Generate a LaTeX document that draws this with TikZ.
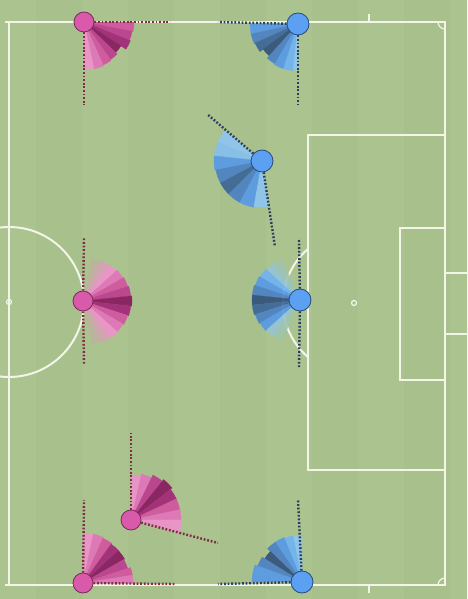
\documentclass[tikz,border=0pt]{standalone}
\usetikzlibrary{calc}
\definecolor{grass}{HTML}{A8C18C}
\definecolor{grassb}{HTML}{AAC38F}
\definecolor{chalk}{HTML}{F2F5E8}
\definecolor{pk1}{HTML}{F090CC}
\definecolor{pk2}{HTML}{E372BB}
\definecolor{pk3}{HTML}{D4529F}
\definecolor{pk4}{HTML}{BD3A8F}
\definecolor{pk5}{HTML}{A22478}
\definecolor{pk6}{HTML}{87175F}
\definecolor{bl1}{HTML}{8EC6F2}
\definecolor{bl2}{HTML}{70B2F5}
\definecolor{bl3}{HTML}{5598E8}
\definecolor{bl4}{HTML}{4A80C4}
\definecolor{bl5}{HTML}{3A6498}
\definecolor{bl6}{HTML}{2F4F7A}
\definecolor{pinkfill}{HTML}{D95AAA}
\definecolor{pinkline}{HTML}{7A2A5A}
\definecolor{bluefill}{HTML}{5BA0F2}
\definecolor{blueline}{HTML}{2A4A7A}
\definecolor{pinkdot}{HTML}{7D2E45}
\definecolor{bluedot}{HTML}{2C3E5C}
\begin{document}
\begin{tikzpicture}[x=1pt,y=1pt,
  pitchline/.style={draw=chalk,line width=2pt},
  fangroup/.style={transparency group,opacity=0.9},
  pinkplayer/.style={circle,minimum size=20pt,inner sep=0pt,fill=pinkfill,draw=pinkline,line width=0.8pt},
  blueplayer/.style={circle,minimum size=22pt,inner sep=0pt,fill=bluefill,draw=blueline,line width=0.8pt},
  pdots/.style={draw=pinkdot,line width=2.4pt,dash pattern=on 1.8pt off 1.8pt},
  bdots/.style={draw=bluedot,line width=2.4pt,dash pattern=on 1.8pt off 1.8pt}]
\useasboundingbox (0,0) rectangle (467,599);
\clip (0,0) rectangle (467,599);
% grass
\fill[grass] (0,0) rectangle (467,599);
\foreach \i in {0,2,...,10} \fill[grassb] (\i*46-10,0) rectangle ++(46,599);
% pitch markings
\draw[pitchline] (5,577) -- (445,577) -- (445,14) -- (5,14);
\draw[pitchline] (9,577) -- (9,14);
\draw[pitchline] (9,297) circle[radius=75];
\draw[chalk,line width=1.2pt] (9,297) circle[radius=2.5];
\draw[pitchline] (445,464) -- (308,464) -- (308,129) -- (445,129);
\draw[pitchline] (445,371) -- (400,371) -- (400,219) -- (445,219);
\draw[chalk,line width=1.2pt] (354,296) circle[radius=2.5];
\draw[pitchline] (354,296) ++(130.4:71) arc[start angle=130.4,end angle=229.6,radius=71];
\draw[pitchline] (445,326) -- (470,326);
\draw[pitchline] (445,265) -- (470,265);
\draw[chalk,line width=1.2pt] (438,577) arc[start angle=180,end angle=270,radius=7];
\draw[chalk,line width=1.2pt] (445,21) arc[start angle=90,end angle=180,radius=7];
\draw[chalk,line width=1.2pt] (369,577) -- (369,585);
\draw[chalk,line width=1.2pt] (369,14) -- (369,6);
% player positions
\coordinate (c1) at (84,577);
\coordinate (c2) at (83,298);
\coordinate (c3) at (131,79);
\coordinate (c4) at (83,16);
\coordinate (c5) at (298,575);
\coordinate (c6) at (262,438);
\coordinate (c7) at (300,299);
\coordinate (c8) at (302,17);
% fans
\begin{scope}[fangroup]
\foreach \a/\b/\r/\col in {0/-11/50/pk3,-11/-22/49/pk4,-22/-33/50/pk5,-33/-44/44/pk6,-44/-55/46/pk4,-55/-66/47/pk3,-66/-78/48/pk2,-78/-90/47/pk1}
  \filldraw[fill=\col,draw=\col,line width=0.3pt] (c1) -- ++(\a:\r) arc[start angle=\a,end angle=\b,radius=\r] -- cycle;
\end{scope}
\begin{scope}[fangroup]
\foreach \a/\b/\r/\col in {78/66/43/pk1!30!grass,66/54/44/pk1!65!grass,54/42/45/pk1,42/30/46/pk2,30/18/47/pk3,18/6/48/pk4,6/-6/49/pk6,-6/-18/48/pk5,-18/-30/47/pk3,-30/-42/46/pk2,-42/-54/46/pk1,-54/-66/45/pk1!65!grass,-66/-78/44/pk1!30!grass}
  \filldraw[fill=\col,draw=\col,line width=0.3pt] (c2) -- ++(\a:\r) arc[start angle=\a,end angle=\b,radius=\r] -- cycle;
\end{scope}
\begin{scope}[fangroup]
\foreach \a/\b/\r/\col in {90/77/45/pk1,77/64/47/pk2,64/51/50/pk4,51/38/52/pk6,38/25/50/pk5,25/12/50/pk3,12/0/50/pk2,0/-15/50/pk1}
  \filldraw[fill=\col,draw=\col,line width=0.3pt] (c3) -- ++(\a:\r) arc[start angle=\a,end angle=\b,radius=\r] -- cycle;
\end{scope}
\begin{scope}[fangroup]
\foreach \a/\b/\r/\col in {90/78/50/pk1,78/66/50/pk2,66/54/49/pk3,54/42/48/pk5,42/30/48/pk6,30/18/47/pk4,18/9/50/pk3,9/0/50/pk2}
  \filldraw[fill=\col,draw=\col,line width=0.3pt] (c4) -- ++(\a:\r) arc[start angle=\a,end angle=\b,radius=\r] -- cycle;
\end{scope}
\begin{scope}[fangroup]
\foreach \a/\b/\r/\col in {180/192/48/bl3,192/204/48/bl4,204/216/47/bl5,216/228/43/bl6,228/240/46/bl4,240/252/47/bl3,252/264/47/bl2,264/270/46/bl1}
  \filldraw[fill=\col,draw=\col,line width=0.3pt] (c5) -- ++(\a:\r) arc[start angle=\a,end angle=\b,radius=\r] -- cycle;
\end{scope}
\begin{scope}[fangroup]
\foreach \a/\b/\r/\col in {140/157/48/bl1,157/174/48/bl1!85!bl3,174/191/48/bl3,191/208/47/bl4,208/225/47/bl5,225/242/47/bl4,242/260/47/bl3,260/278/46/bl1}
  \filldraw[fill=\col,draw=\col,line width=0.3pt] (c6) -- ++(\a:\r) arc[start angle=\a,end angle=\b,radius=\r] -- cycle;
\end{scope}
\begin{scope}[fangroup]
\foreach \a/\b/\r/\col in {114/126/44/bl1!35!grass,126/138/45/bl1!70!grass,138/150/46/bl2,150/162/47/bl3,162/174/48/bl4,174/186/48/bl6,186/198/48/bl5,198/210/47/bl4,210/222/46/bl3,222/234/45/bl1!70!grass,234/246/44/bl1!35!grass}
  \filldraw[fill=\col,draw=\col,line width=0.3pt] (c7) -- ++(\a:\r) arc[start angle=\a,end angle=\b,radius=\r] -- cycle;
\end{scope}
\begin{scope}[fangroup]
\foreach \a/\b/\r/\col in {90/101/46/bl1,101/112/47/bl2,112/124/48/bl3,124/136/48/bl4,136/148/44/bl6,148/160/47/bl4,160/170/50/bl3,170/180/50/bl3}
  \filldraw[fill=\col,draw=\col,line width=0.3pt] (c8) -- ++(\a:\r) arc[start angle=\a,end angle=\b,radius=\r] -- cycle;
\end{scope}
% players
\node[pinkplayer] (p1) at (c1) {};
\node[pinkplayer] (p2) at (c2) {};
\node[pinkplayer] (p3) at (c3) {};
\node[pinkplayer] (p4) at (c4) {};
\node[blueplayer] (b1) at (c5) {};
\node[blueplayer] (b2) at (c6) {};
\node[blueplayer] (b3) at (c7) {};
\node[blueplayer] (b4) at (c8) {};
% dotted line ends
\coordinate (p1r) at (170,577);
\coordinate (p1d) at (84,494);
\coordinate (p2u) at (84,362);
\coordinate (p2d) at (84,234);
\coordinate (p3u) at (131,166);
\coordinate (p3r) at (218,56);
\coordinate (p4r) at (175,15);
\coordinate (p4u) at (84,99);
\coordinate (b1l) at (218,577);
\coordinate (b1d) at (298,494);
\coordinate (b2u) at (207,485);
\coordinate (b2d) at (275,352);
\coordinate (b3u) at (299,359);
\coordinate (b3d) at (299,231);
\coordinate (b4l) at (218,15);
\coordinate (b4u) at (298,99);
\draw[pdots] (p1) -- (p1r);
\draw[pdots] (p1) -- (p1d);
\draw[pdots] (p2) -- (p2u);
\draw[pdots] (p2) -- (p2d);
\draw[pdots] (p3) -- (p3u);
\draw[pdots] (p3) -- (p3r);
\draw[pdots] (p4) -- (p4r);
\draw[pdots] (p4) -- (p4u);
\draw[bdots] (b1) -- (b1l);
\draw[bdots] (b1) -- (b1d);
\draw[bdots] (b2) -- (b2u);
\draw[bdots] (b2) -- (b2d);
\draw[bdots] (b3) -- (b3u);
\draw[bdots] (b3) -- (b3d);
\draw[bdots] (b4) -- (b4l);
\draw[bdots] (b4) -- (b4u);
\end{tikzpicture}
\end{document}
